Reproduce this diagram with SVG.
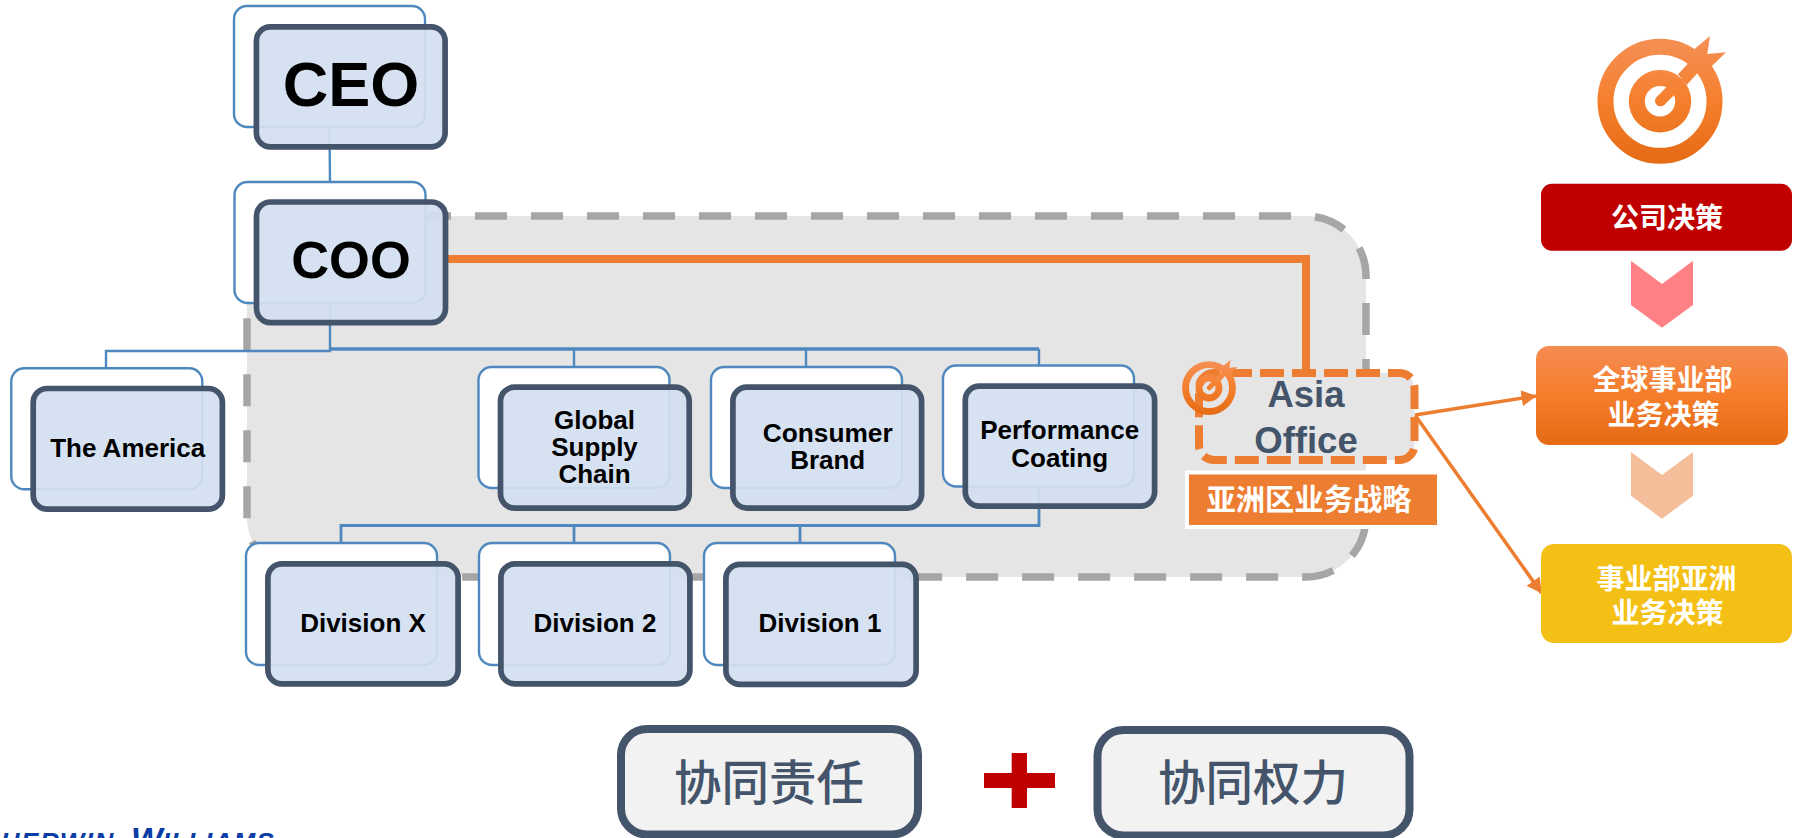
<svg xmlns="http://www.w3.org/2000/svg" xmlns:xlink="http://www.w3.org/1999/xlink" width="1797" height="838" viewBox="0 0 1797 838">
<style>
text{font-family:"Liberation Sans","Noto Sans CJK SC",sans-serif;text-anchor:middle}
.cn{font-family:"Noto Sans CJK SC","Liberation Sans",sans-serif}
.back{fill:#fff;stroke:#4f88be;stroke-width:2.4}
.front{fill:#d3e0f1;fill-opacity:.93;stroke:#44546a;stroke-width:5.7}
.lbl{font-weight:700;font-size:26px;fill:#000}
.blue{fill:none;stroke:#4f88be;stroke-width:2.4}
.w{fill:#fff;font-weight:700;font-size:28px}
.sum{fill:#f2f2f2;stroke:#44546a;stroke-width:8}
.sumt{fill:#44546a;font-size:47.5px;font-weight:500}
</style>
<defs>
<linearGradient id="tg" gradientUnits="userSpaceOnUse" x1="0" y1="-62" x2="0" y2="62"><stop offset="0" stop-color="#f59054"/><stop offset=".5" stop-color="#f57f2d"/><stop offset="1" stop-color="#e56b14"/></linearGradient>
<linearGradient id="og" x1="0" y1="0" x2="0" y2="1"><stop offset="0" stop-color="#f58c52"/><stop offset=".5" stop-color="#f57d2b"/><stop offset="1" stop-color="#e56a15"/></linearGradient>
<g id="target">
<circle r="54.5" fill="none" stroke="url(#tg)" stroke-width="16"/>
<circle r="23.2" fill="none" stroke="url(#tg)" stroke-width="16"/>
<polygon fill="url(#tg)" points="18,-27 28.3,-38 33,-51 50,-65.3 47.3,-47.3 66,-49 51.7,-35 37.3,-28 26.7,-16.3"/>
<line x1="0.5" y1="-0.5" x2="18" y2="-18" stroke="url(#tg)" stroke-width="11" stroke-linecap="round"/>
</g>
<marker id="ah" markerUnits="userSpaceOnUse" markerWidth="16" markerHeight="16" refX="14.5" refY="8" orient="auto"><path d="M0,0L15,8L0,16z" fill="#ed7d31"/></marker>
</defs>
<rect width="1797" height="838" fill="#fff"/>
<rect id="region" x="247" y="216" width="1119" height="361" rx="60" fill="#e5e5e5" stroke="#a6a6a6" stroke-width="7.5" stroke-dasharray="32 24"/>
<g id="connectors">
<path class="blue" d="M329.5 127L330 182"/>
<path class="blue" d="M330 303V351H106V368"/>
<path class="blue" style="stroke-width:3.4" d="M330 349H1039"/>
<path class="blue" d="M574 349V367M806 349V367M1039 349V366"/>
<path class="blue" style="stroke-width:2.8" d="M1039 486V525.5H341V543M574 525.5V543M800 525.5V543"/>
<path fill="none" stroke="#ed7d31" stroke-width="8" d="M446 259H1306V373"/>
<path fill="none" stroke="#ed7d31" stroke-width="3.5" marker-end="url(#ah)" d="M1415 415L1536 396"/>
<path fill="none" stroke="#ed7d31" stroke-width="3.5" marker-end="url(#ah)" d="M1415 415L1541.5 593"/>
</g>
<g id="ceo"><rect class="back" x="234" y="6" width="191" height="121" rx="13"/><rect class="front" x="256.4" y="26.9" width="188.7" height="120" rx="14"/><text x="351" y="105.5" font-size="63" font-weight="700">CEO</text></g>
<g id="coo"><rect class="back" x="234.5" y="182" width="191" height="121" rx="13"/><rect class="front" x="256.5" y="202" width="189" height="120.6" rx="14"/><text x="351" y="278" font-size="52.5" font-weight="700">COO</text></g>
<g id="america"><rect class="back" x="11.3" y="368.3" width="191" height="121" rx="13"/><rect class="front" x="33.2" y="388.5" width="189.2" height="120.7" rx="14"/><text class="lbl" x="127.7" y="456.7">The America</text></g>
<g id="global"><rect class="back" x="478.5" y="367" width="191" height="121" rx="13"/><rect class="front" x="500.5" y="387.2" width="188.7" height="120.9" rx="14"/><text class="lbl" x="594.5" y="429">Global</text><text class="lbl" x="594.5" y="456">Supply</text><text class="lbl" x="594.5" y="483.3">Chain</text></g>
<g id="consumer"><rect class="back" x="711" y="367" width="191" height="121" rx="13"/><rect class="front" x="732.9" y="387.2" width="188.7" height="120.9" rx="14"/><text class="lbl" x="827.7" y="441.7" textLength="130" lengthAdjust="spacingAndGlyphs">Consumer</text><text class="lbl" x="827.7" y="469.3">Brand</text></g>
<g id="performance"><rect class="back" x="943" y="365.5" width="191" height="121" rx="13"/><rect class="front" x="965.3" y="386.1" width="189.3" height="120" rx="14"/><text class="lbl" x="1059.7" y="439.3">Performance</text><text class="lbl" x="1059.7" y="466.7">Coating</text></g>
<g id="division-x"><rect class="back" x="246" y="543" width="191" height="122" rx="13"/><rect class="front" x="267.9" y="563.9" width="190.2" height="120" rx="14"/><text class="lbl" x="363" y="631.7">Division X</text></g>
<g id="division-2"><rect class="back" x="479" y="543" width="191" height="122" rx="13"/><rect class="front" x="500.9" y="563.9" width="189" height="120" rx="14"/><text class="lbl" x="595" y="631.7">Division 2</text></g>
<g id="division-1"><rect class="back" x="704" y="543" width="191" height="122" rx="13"/><rect class="front" x="725.9" y="564.4" width="190.2" height="120" rx="14"/><text class="lbl" x="820" y="631.7">Division 1</text></g>
<g id="asia-office"><rect x="1199" y="373" width="215.5" height="87" rx="15" fill="#e5e5e5" stroke="#ed7d31" stroke-width="8" stroke-dasharray="24 8" stroke-dashoffset="-14"/><text x="1306" y="407" font-size="36.5" font-weight="700" fill="#44546a">Asia</text><text x="1306" y="452.7" font-size="36.5" font-weight="700" fill="#44546a">Office</text></g>
<use id="asia-target" xlink:href="#target" href="#target" transform="translate(1209 388) scale(.43)"/>
<g id="asia-strategy"><rect x="1187" y="472.5" width="252" height="54.5" fill="#ed7d31" stroke="#fff" stroke-width="4"/><text class="cn" x="1309" y="510" font-size="29.3" font-weight="700" fill="#fff">亚洲区业务战略</text></g>
<use id="top-target" xlink:href="#target" href="#target" transform="translate(1660 101.3)"/>
<g id="company"><rect x="1541" y="183.7" width="251" height="67" rx="11" fill="#c00000"/><text class="cn w" x="1667" y="228">公司决策</text></g>
<polygon id="chevron-1" points="1631,260.7 1662,284 1693,260.7 1693,305 1662,327.7 1631,305" fill="#ff8085"/>
<g id="global-bu"><rect x="1536" y="346" width="252" height="99" rx="13" fill="url(#og)"/><text class="cn w" x="1662.5" y="390">全球事业部</text><text class="cn w" x="1663.5" y="424.5">业务决策</text></g>
<polygon id="chevron-2" points="1631,452 1662,475 1693,452 1693,495.7 1662,518.7 1631,495.7" fill="#f4be9b"/>
<g id="asia-bu"><rect x="1541" y="544" width="251" height="99" rx="13" fill="#f5c015"/><text class="cn w" x="1666.5" y="589">事业部亚洲</text><text class="cn w" x="1667.5" y="622.5">业务决策</text></g>
<g id="resp"><rect class="sum" x="621" y="729" width="297" height="105.5" rx="26"/><text class="cn sumt" x="769" y="800">协同责任</text></g>
<path id="plus" fill="#c00000" d="M1011.7 753H1027V773H1055V788H1027V808H1011.7V788H984V773H1011.7z"/>
<g id="auth"><rect class="sum" x="1097.5" y="730" width="312" height="105.5" rx="26"/><text class="cn sumt" x="1253" y="800">协同权力</text></g>
<text id="logo" y="850.6" fill="#0a3da6" font-style="italic" font-weight="700" font-size="26" letter-spacing="1.5" style="text-anchor:start"><tspan x="-18">SHERWIN-</tspan><tspan x="131" font-size="33.4" letter-spacing="0">W</tspan><tspan letter-spacing="1.2">ILLIAMS</tspan></text>
</svg>
